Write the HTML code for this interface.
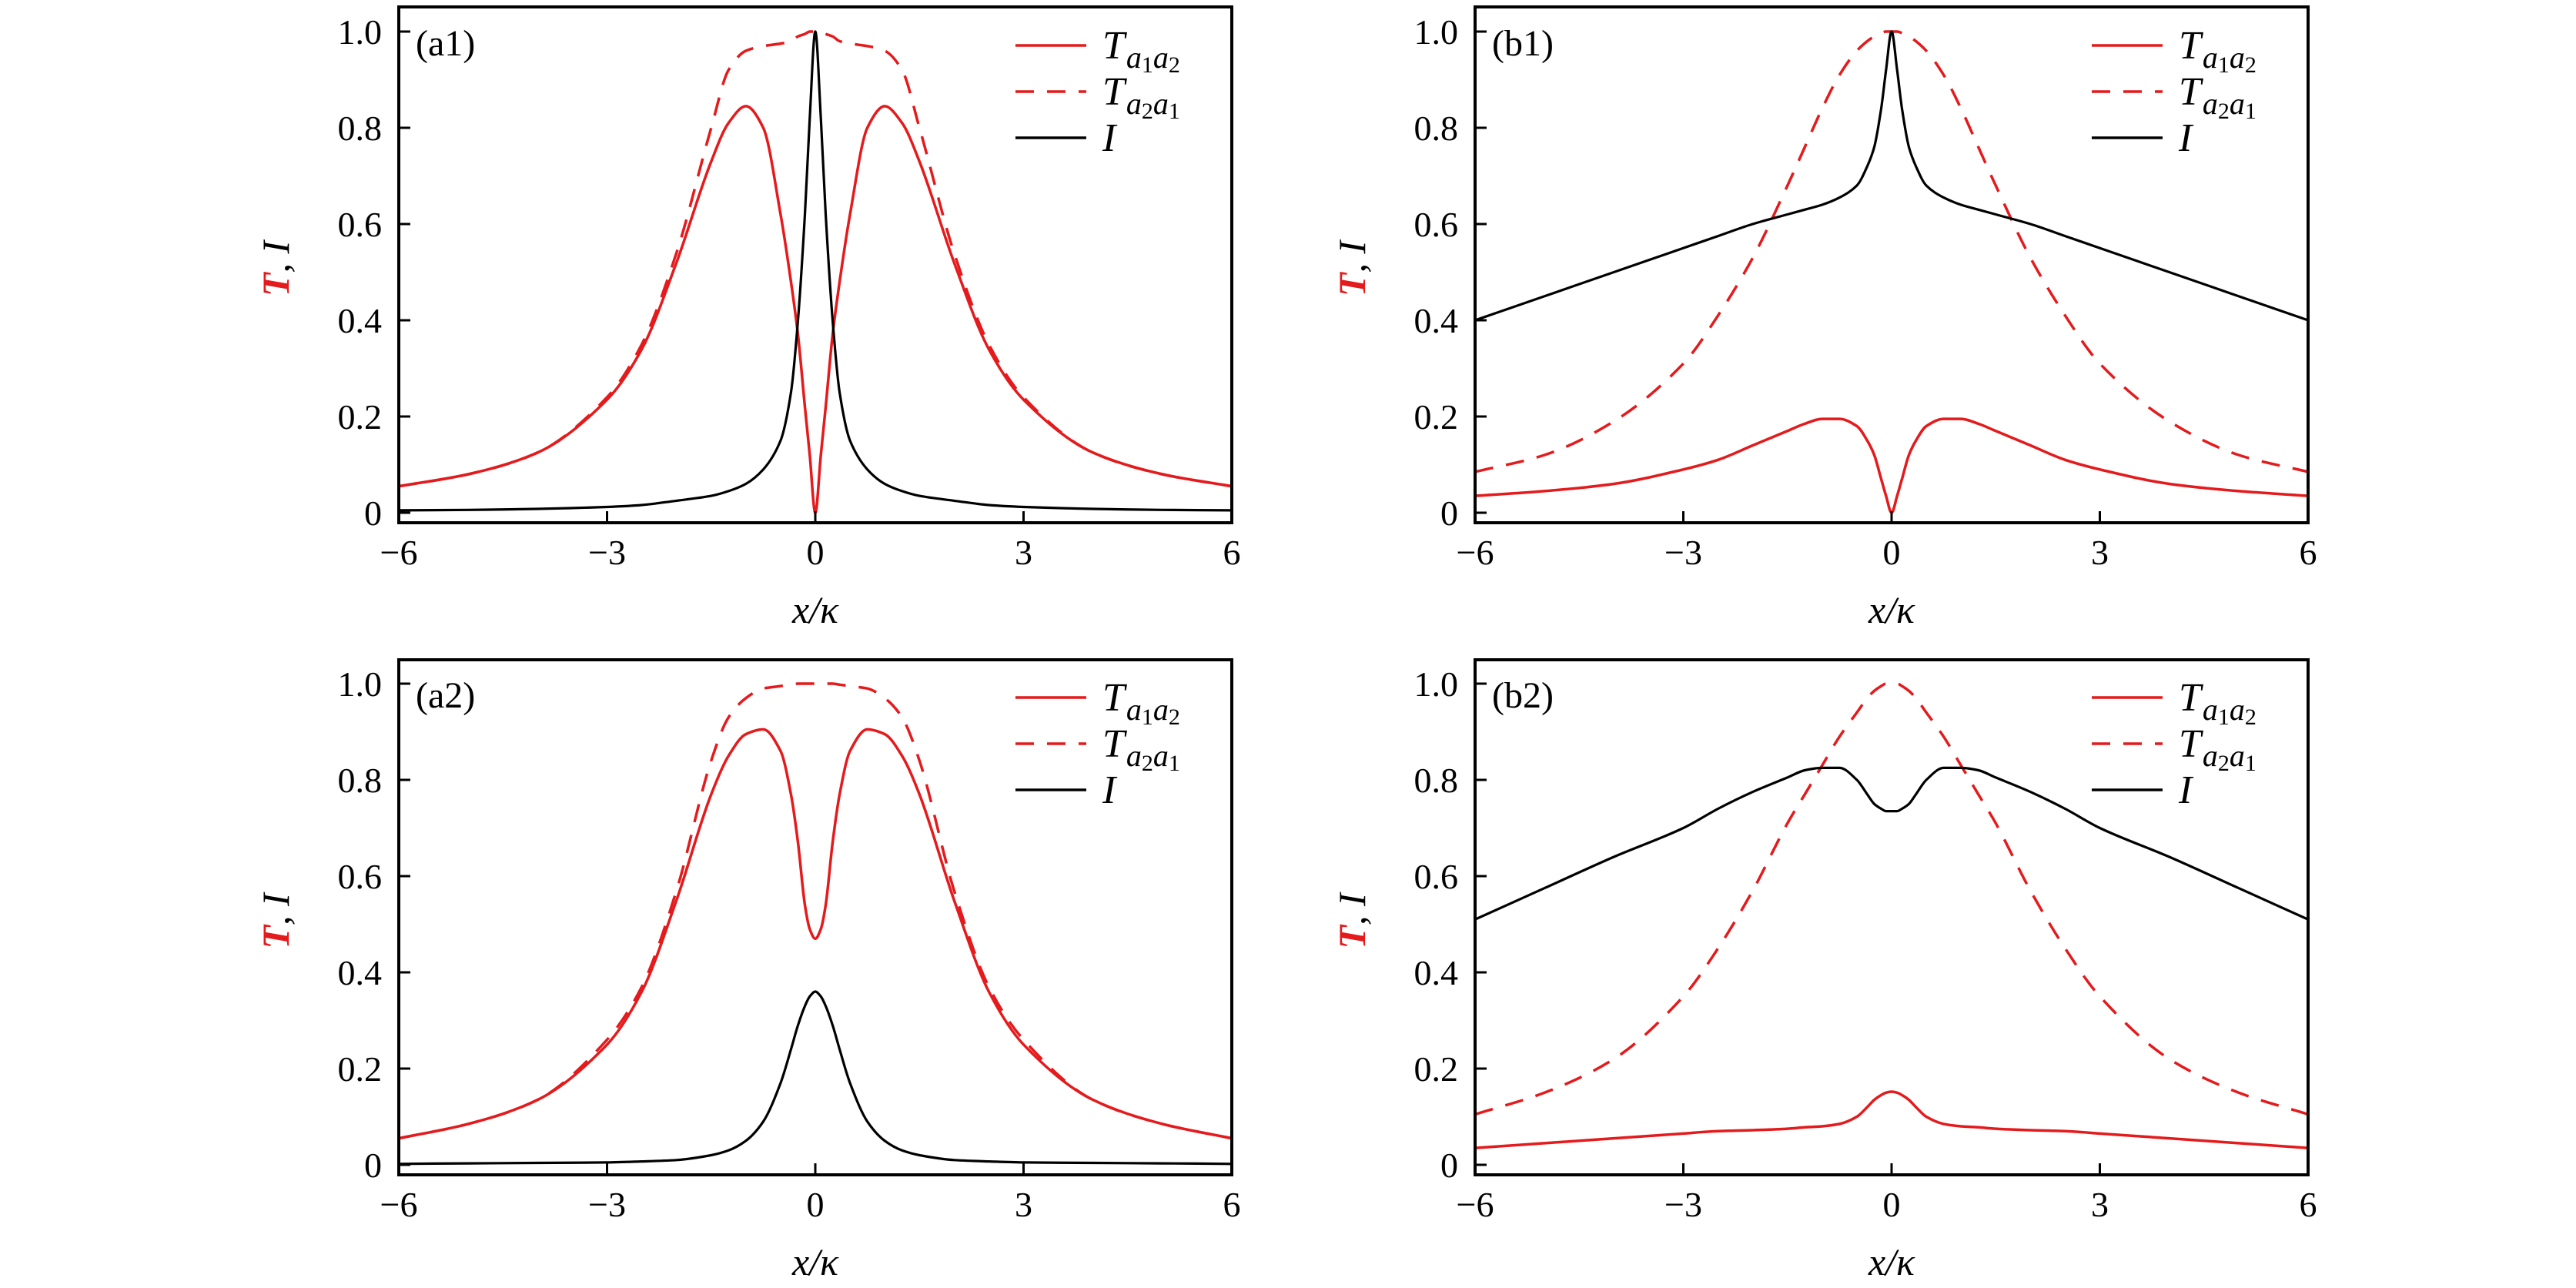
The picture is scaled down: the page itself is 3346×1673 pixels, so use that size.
<!DOCTYPE html>
<html><head><meta charset="utf-8">
<style>
html,body{margin:0;padding:0;background:#fff;}
svg{display:block;}
text{font-family:"Liberation Serif",serif;}
</style></head>
<body>
<svg id="fig" width="3346" height="1673" viewBox="0 0 3346 1673" xmlns="http://www.w3.org/2000/svg"></svg>
<script>
// shared x grid (x/kappa)
const xGrid = [-6,-5,-4,-3,-2.5,-2,-1.5,-1.25,-1,-0.75,-0.5,-0.35,-0.25,-0.15,-0.08,0,0.08,0.15,0.25,0.35,0.5,0.75,1,1.25,1.5,2,2.5,3,4,5,6];
const xTicks = [-6,-3,0,3,6];
const xTickLabels = ["\u22126","\u22123","0","3","6"];
const yTicks = [0,0.2,0.4,0.6,0.8,1.0];
const yTickLabels = ["0","0.2","0.4","0.6","0.8","1.0"];
const panelNames = ["(a1)","(b1)","(a2)","(b2)"];

// panel a1
const a1T12 = [.055,.08,.125,.235,.34,.52,.73,.81,.845,.80,.62,.48,.37,.22,.12,0,.12,.22,.37,.48,.62,.80,.845,.81,.73,.52,.34,.235,.125,.08,.055];
const a1T21 = [.055,.08,.125,.24,.35,.54,.80,.92,.96,.97,.975,.98,.99,.995,1.0,1.0,1.0,.995,.99,.98,.975,.97,.96,.92,.80,.54,.35,.24,.125,.08,.055];
const a1I   = [.005,.006,.008,.012,.016,.025,.035,.045,.06,.09,.15,.25,.40,.62,.82,1.0,.82,.62,.40,.25,.15,.09,.06,.045,.035,.025,.016,.012,.008,.006,.005];
// panel b1
const b1T12 = [.035,.045,.06,.09,.11,.14,.17,.185,.195,.195,.18,.15,.12,.07,.035,0,.035,.07,.12,.15,.18,.195,.195,.185,.17,.14,.11,.09,.06,.045,.035];
const b1T21 = [.085,.12,.19,.31,.41,.53,.68,.76,.84,.91,.96,.98,.99,.997,1.0,1.0,1.0,.997,.99,.98,.96,.91,.84,.76,.68,.53,.41,.31,.19,.12,.085];
const b1I   = [.40,.45,.50,.55,.575,.60,.62,.63,.64,.655,.68,.72,.76,.84,.92,1.0,.92,.84,.76,.72,.68,.655,.64,.63,.62,.60,.575,.55,.50,.45,.40];
// panel a2
const a2T12 = [.055,.085,.135,.25,.36,.55,.77,.85,.895,.905,.86,.77,.67,.54,.49,.47,.49,.54,.67,.77,.86,.905,.895,.85,.77,.55,.36,.25,.135,.085,.055];
const a2T21 = [.055,.085,.135,.26,.37,.57,.84,.93,.97,.99,.995,.998,1.0,1.0,1.0,1.0,1.0,1.0,1.0,.998,.995,.99,.97,.93,.84,.57,.37,.26,.135,.085,.055];
const a2I   = [.002,.003,.004,.005,.007,.01,.02,.03,.05,.09,.17,.24,.29,.33,.35,.36,.35,.33,.29,.24,.17,.09,.05,.03,.02,.01,.007,.005,.004,.003,.002];
// panel b2
const b2T12 = [.035,.045,.055,.065,.07,.072,.075,.078,.08,.085,.10,.12,.135,.145,.15,.152,.15,.145,.135,.12,.10,.085,.08,.078,.075,.072,.07,.065,.055,.045,.035];
const b2T21 = [.105,.15,.22,.35,.45,.57,.71,.77,.83,.89,.94,.97,.985,.995,1.0,1.0,1.0,.995,.985,.97,.94,.89,.83,.77,.71,.57,.45,.35,.22,.15,.105];
const b2I   = [.51,.575,.64,.70,.74,.775,.805,.82,.825,.825,.80,.77,.75,.74,.735,.735,.735,.74,.75,.77,.80,.825,.825,.82,.805,.775,.74,.70,.64,.575,.51];

const NS="http://www.w3.org/2000/svg";
const svg=document.getElementById('fig');
function mk(tag,attrs,parent){const e=document.createElementNS(NS,tag);for(const k in attrs)e.setAttribute(k,attrs[k]);(parent||svg).appendChild(e);return e;}

const panels=[
 {id:'a1',L:518,R:1600,T:9,B:679,y0:666,y1:41,t12:a1T12,t21:a1T21,I:a1I},
 {id:'b1',L:1916,R:2998,T:9,B:679,y0:666,y1:41,t12:b1T12,t21:b1T21,I:b1I},
 {id:'a2',L:518,R:1600,T:857,B:1526,y0:1513,y1:888,t12:a2T12,t21:a2T21,I:a2I},
 {id:'b2',L:1916,R:2998,T:857,B:1526,y0:1513,y1:888,t12:b2T12,t21:b2T21,I:b2I}
];

// monotone-ish Hermite in data space (non-uniform spacing aware)
function pathFor(vals,sx,sy){
  const n=xGrid.length;
  const m=[];
  for(let i=0;i<n;i++){
    if(i===0) m.push((vals[1]-vals[0])/(xGrid[1]-xGrid[0]));
    else if(i===n-1) m.push((vals[n-1]-vals[n-2])/(xGrid[n-1]-xGrid[n-2]));
    else{
      const d0=(vals[i]-vals[i-1])/(xGrid[i]-xGrid[i-1]);
      const d1=(vals[i+1]-vals[i])/(xGrid[i+1]-xGrid[i]);
      m.push(d0*d1<=0?0:2/(1/d0+1/d1));
    }
  }
  let d='M'+sx(xGrid[0]).toFixed(1)+','+sy(vals[0]).toFixed(1);
  for(let i=0;i<n-1;i++){
    const h=xGrid[i+1]-xGrid[i];
    const c1x=xGrid[i]+h/3,c1y=vals[i]+m[i]*h/3;
    const c2x=xGrid[i+1]-h/3,c2y=vals[i+1]-m[i+1]*h/3;
    d+=' C'+sx(c1x).toFixed(1)+','+sy(c1y).toFixed(1)+' '+sx(c2x).toFixed(1)+','+sy(c2y).toFixed(1)+' '+sx(xGrid[i+1]).toFixed(1)+','+sy(vals[i+1]).toFixed(1);
  }
  return d;
}

panels.forEach((p,pi)=>{
  const g=mk('g',{});
  
  
  const sx=x=>p.L+(x+6)/12*(p.R-p.L);
  const sy=v=>p.y0+(p.y1-p.y0)*v;
  const cp=mk('clipPath',{id:'clip-'+p.id},g);
  mk('rect',{x:p.L,y:p.T,width:p.R-p.L,height:p.B-p.T},cp);
  const cg=mk('g',{'clip-path':'url(#clip-'+p.id+')'},g);
  const s1=mk('path',{d:pathFor(p.t21,sx,sy),fill:'none',stroke:'#e41a1c','stroke-width':3.5,'stroke-dasharray':'24 17'},cg);
  
  
  const s2=mk('path',{d:pathFor(p.t12,sx,sy),fill:'none',stroke:'#e41a1c','stroke-width':3.5},cg);
  
  
  const s3=mk('path',{d:pathFor(p.I,sx,sy),fill:'none',stroke:'#000','stroke-width':3.2},cg);
  
  
  const fr=mk('rect',{x:p.L,y:p.T,width:p.R-p.L,height:p.B-p.T,fill:'none',stroke:'#000','stroke-width':4},g);
  
  
  xTicks.forEach((x,i)=>{
    mk('line',{x1:sx(x),x2:sx(x),y1:p.B,y2:p.B-15,stroke:'#000','stroke-width':3},g);
    const t=mk('text',{x:sx(x),y:p.B+54,'font-size':46,'text-anchor':'middle'},g);
    t.textContent=xTickLabels[i];
    
    
  });
  yTicks.forEach((v,i)=>{
    mk('line',{x1:p.L,x2:p.L+15,y1:sy(v),y2:sy(v),stroke:'#000','stroke-width':3},g);
    const t=mk('text',{x:p.L-22,y:sy(v)+16,'font-size':46,'text-anchor':'end'},g);
    t.textContent=yTickLabels[i];
    
    
  });
  const xl=mk('text',{x:(p.L+p.R)/2,y:p.B+130,'font-size':50,'font-style':'italic','text-anchor':'middle'},g);
  xl.textContent='x/\u03BA';
  
  
  const yc=(p.T+p.B)/2+5;
  const yl=mk('text',{x:0,y:0,'font-size':50,'font-style':'italic','text-anchor':'middle',transform:'translate('+(p.L-143)+','+yc+') rotate(-90)'},g);
  
  
  const ta=mk('tspan',{fill:'#e41a1c','font-weight':'bold'},yl); ta.textContent='T';
  const tb=mk('tspan',{fill:'#000'},yl); tb.textContent=', I';
  const pl=mk('text',{x:p.L+22,y:p.y1+31,'font-size':48},g);
  pl.textContent=panelNames[pi];
  
  
  const lx1=p.R-281,lx2=p.R-189,tx=p.R-168;
  const rows=[{c:'#e41a1c',dash:null,main:'T',s1:'a',n1:'1',s2:'a',n2:'2'},{c:'#e41a1c',dash:'24 17',main:'T',s1:'a',n1:'2',s2:'a',n2:'1'},{c:'#000',dash:null,main:'I'}];
  rows.forEach((r,k)=>{
    const yy=p.y1+18+60*k;
    const le=mk('g',{},g);
    
    
    const ln=mk('line',{x1:lx1,x2:lx2,y1:yy,y2:yy,stroke:r.c,'stroke-width':3.5},le);
    if(r.dash) ln.setAttribute('stroke-dasharray',r.dash);
    const t=mk('text',{x:tx,y:yy+17,'font-size':52,'font-style':'italic'},le);
    const m=mk('tspan',{},t); m.textContent=r.main;
    if(r.s1){
      const a=mk('tspan',{'font-size':40,dy:12,dx:2},t); a.textContent=r.s1;
      const b=mk('tspan',{'font-size':30,dy:6,'font-style':'normal'},t); b.textContent=r.n1;
      const c=mk('tspan',{'font-size':40,dy:-6},t); c.textContent=r.s2;
      const d=mk('tspan',{'font-size':30,dy:6,'font-style':'normal'},t); d.textContent=r.n2;
    }
  });
});
</script>
</body></html>
